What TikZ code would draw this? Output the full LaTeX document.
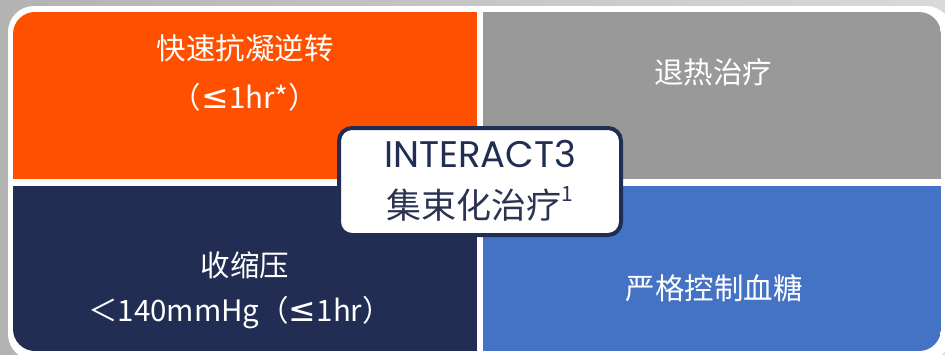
\documentclass[tikz,border=0pt]{standalone}
\usepackage{fontspec}
\setmainfont{Noto Sans CJK SC}
\newfontfamily\cjk{Noto Sans CJK SC}
\newfontfamily\pop{Poppins}
\newfontfamily\dvs{DejaVu Sans}
\newcommand{\myle}{{\dvs\fontsize{33}{36}\selectfont ≤}}
\usetikzlibrary{calc}
\definecolor{cOrange}{HTML}{FF5000}
\definecolor{cGray}{HTML}{999999}
\definecolor{cNavy}{HTML}{212D52}
\definecolor{cBlue}{HTML}{4472C4}
\definecolor{cText}{HTML}{2B3352}
\begin{document}
\begin{tikzpicture}[x=1pt,y=-1pt,
  qtext/.style={text=white,font=\cjk\fontsize{29.5}{36}\selectfont,align=center,inner sep=0pt},
  centerbox/.style={draw=cNavy,line width=4pt,fill=white,rounded corners=13pt,minimum width=282pt,minimum height=107pt,inner sep=0pt}]
\useasboundingbox (0,0) rectangle (945,354);
\shade[left color=black!30,right color=black!15] (0,0) rectangle (945,354);
\fill[white,rounded corners=26pt] (8,6) rectangle (952,360);
\begin{scope}
\clip[rounded corners=22pt] (13,12) rectangle (941,351);
\fill[cOrange] (13,12) rectangle (476.5,178.5);
\fill[cGray] (483,12) rectangle (941,178.5);
\fill[cNavy] (13,185.5) rectangle (476.5,351);
\fill[cBlue] (483,185.5) rectangle (941,351);
\end{scope}
\node[qtext] (tl1) at (245,48) {快速抗凝逆转};
\node[qtext] (tl2) at (245,97) {（\myle 1hr*）};
\node[qtext] (tr) at (713,72) {退热治疗};
\node[qtext] (bl1) at (245,265) {收缩压};
\node[qtext] (bl2) at (240,313) {＜140mmHg（\myle 1hr）};
\node[qtext] (br) at (714,288) {严格控制血糖};
\node[centerbox] (c) at (480,181.5) {};
\node[text=cNavy,font=\pop\fontsize{37}{42}\selectfont,inner sep=0pt] (c1) at (480,154) {INTERACT3};
\node[text=cText,font=\cjk\fontsize{35}{40}\selectfont,inner sep=0pt] (c2) at (480,204) {集束化治疗\raisebox{0.5em}{\fontsize{21}{24}\selectfont 1}};
\end{tikzpicture}
\end{document}
